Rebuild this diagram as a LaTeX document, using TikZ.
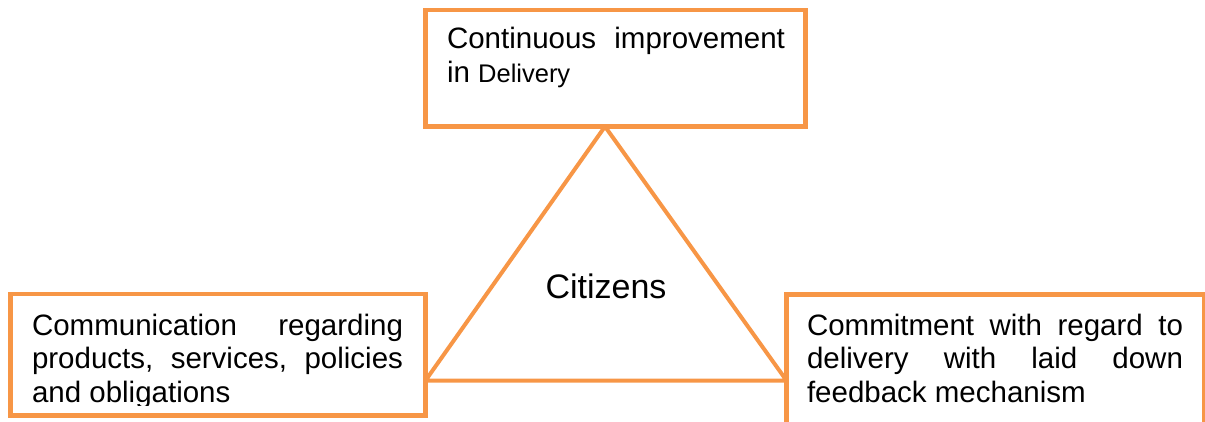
\documentclass[tikz,border=0pt]{standalone}
\usepackage{fontspec}
\setmainfont{Liberation Sans}
\definecolor{acc}{HTML}{F79646}
\begin{document}
\begin{tikzpicture}[x=1pt,y=-1pt,
  box/.style={draw=acc,line width=4.5pt,rectangle,inner sep=0pt,outer sep=0pt},
  tri/.style={draw=acc,line width=4pt,line join=round},
  txt/.style={inner sep=0pt,outer sep=0pt,anchor=base west,font=\fontsize{29.5pt}{33pt}\selectfont},
  big/.style={inner sep=0pt,outer sep=0pt,anchor=base,font=\fontsize{34pt}{40pt}\selectfont}]
\useasboundingbox (0,0) rectangle (1205,421);
\clip (0,0) rectangle (1205,421);
% boxes
\node[box,minimum width=380pt,minimum height=116.5pt] (topbox) at (615.5,68.25) {};
\node[box,minimum width=415pt,minimum height=121.5pt] (leftbox) at (218,354.75) {};
\node[box,minimum width=417.5pt,minimum height=155.5pt] (rightbox) at (995.25,372.25) {};
% triangle
\coordinate (apex) at (605,126.5);
\coordinate (bl) at (leftbox.east |- 0,380.5);
\coordinate (br) at (rightbox.west |- 0,380.5);
\draw[tri] (apex) -- (bl) -- (br) -- cycle;
% texts
\node[big] (cit) at (606,298) {Citizens};
\node[txt] (t1) at (447,48) {\hbox to 338pt{Continuous\hfill improvement}};
\node[txt] (t2) at (447,82) {in {\fontsize{25.5pt}{30pt}\selectfont Delivery}};
\node[txt] (l1) at (32,335) {\hbox to 371pt{Communication\hfill regarding}};
\node[txt] (l2) at (32,368) {\hbox to 371pt{products,\hfill services,\hfill policies}};
\begin{scope}
\clip (0,0) rectangle (1205,405.5);
\node[txt] (l3) at (32,402) {and obligations};
\end{scope}
\node[txt] (r1) at (807,335) {\hbox to 376pt{Commitment\hfill with\hfill regard\hfill to}};
\node[txt] (r2) at (807,368) {\hbox to 376pt{delivery\hfill with\hfill laid\hfill down}};
\node[txt] (r3) at (807,402) {feedback mechanism};
\end{tikzpicture}
\end{document}
